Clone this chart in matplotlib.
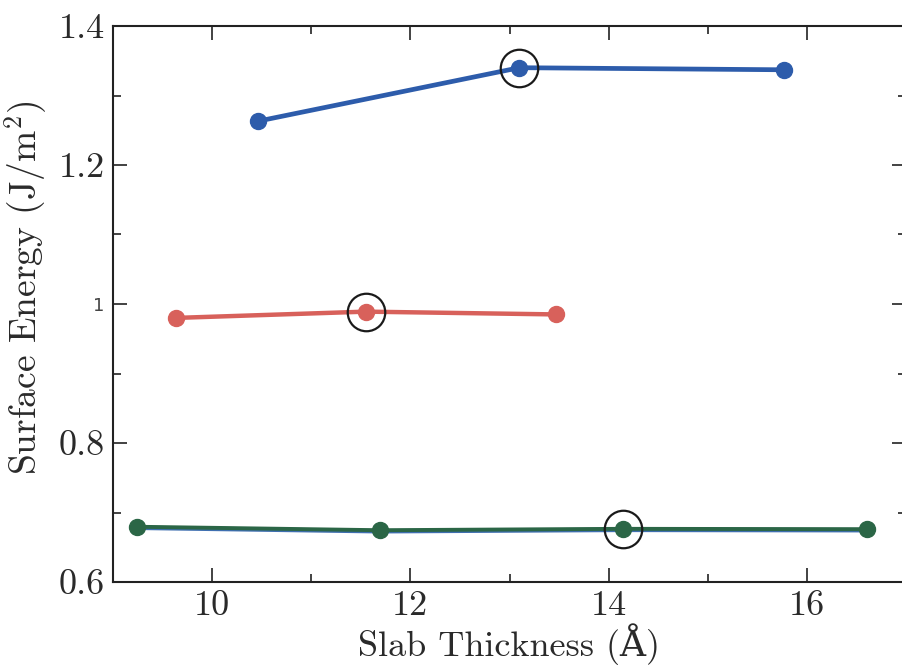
import matplotlib
matplotlib.use("Agg")
import matplotlib.pyplot as plt
from matplotlib.ticker import FixedLocator

plt.rcParams["font.family"] = ["cmr10", "DejaVu Serif"]
plt.rcParams["mathtext.fontset"] = "cm"
plt.rcParams["axes.formatter.use_mathtext"] = True

# Surface energy vs slab thickness for three terminations
blue_x = [10.46, 13.10, 15.77]
blue_y = [1.263, 1.340, 1.337]

red_x = [9.64, 11.55, 13.47]
red_y = [0.980, 0.989, 0.985]

green_x = [9.24, 11.69, 14.15, 16.61]
green_y = [0.6795, 0.6745, 0.6765, 0.6760]
green_under_y = [0.6780, 0.6730, 0.6750, 0.6745]

# converged slab thickness for each series
sel_x = [13.10, 11.55, 14.15]
sel_y = [1.340, 0.989, 0.6765]

yticks = [0.6, 0.8, 1.0, 1.2, 1.4]
ytick_labels = ["0.6", "0.8", "1", "1.2", "1.4"]
xticks = [10, 12, 14, 16]
xtick_labels = ["10", "12", "14", "16"]

fig = plt.figure(figsize=(9.03, 6.65), dpi=100)
ax = fig.add_axes([113 / 903, 83 / 665, 793 / 903, 556 / 665])

blue = "#2d5cab"
red = "#d8615b"
green = "#2b6646"

ax.plot(green_x, green_under_y, color="#3f6fb0", lw=3.2, solid_capstyle="round", zorder=2)
ax.plot(blue_x, blue_y, color=blue, lw=3.4, marker="o", ms=11.5, zorder=3)
ax.plot(red_x, red_y, color=red, lw=3.2, marker="o", ms=11.5, zorder=3)
ax.plot(green_x, green_y, color=green, lw=2.8, marker="o", ms=11.5, zorder=3)
ax.plot(sel_x, sel_y, ls="none", marker="o", ms=27, mfc="none", mec="#1a1a1a",
        mew=1.6, zorder=4)

ax.set_xlim(9, 17)
ax.set_ylim(0.6, 1.4)
ax.xaxis.set_major_locator(FixedLocator(xticks))
ax.set_xticklabels(xtick_labels)
ax.xaxis.set_minor_locator(FixedLocator([11, 13, 15]))
ax.yaxis.set_major_locator(FixedLocator(yticks))
ax.set_yticklabels(ytick_labels)
ax.yaxis.set_minor_locator(FixedLocator([0.7, 0.9, 1.1, 1.3]))

ax.tick_params(which="both", direction="in", top=True, right=True, width=1.2,
               color="#222222", labelcolor="#2a2a2a", labelsize=26, pad=6)
ax.tick_params(which="major", length=10)
ax.tick_params(which="minor", length=5.5)
for s in ax.spines.values():
    s.set_linewidth(1.5)
    s.set_color("#222222")

for lbl in ax.get_yticklabels():
    if lbl.get_text() == "1":
        lbl.set_fontfamily("DejaVu Sans")
        lbl.set_fontsize(13)
        lbl.set_color("#444444")

ax.set_xlabel("Slab Thickness (Å)", fontsize=26, color="#2a2a2a", labelpad=1)
ax.set_ylabel("Surface Energy (J/m$^2$)", fontsize=27, color="#2a2a2a")
ax.yaxis.set_label_coords(-0.081, 0.53)

fig.savefig("out.png", dpi=100)
